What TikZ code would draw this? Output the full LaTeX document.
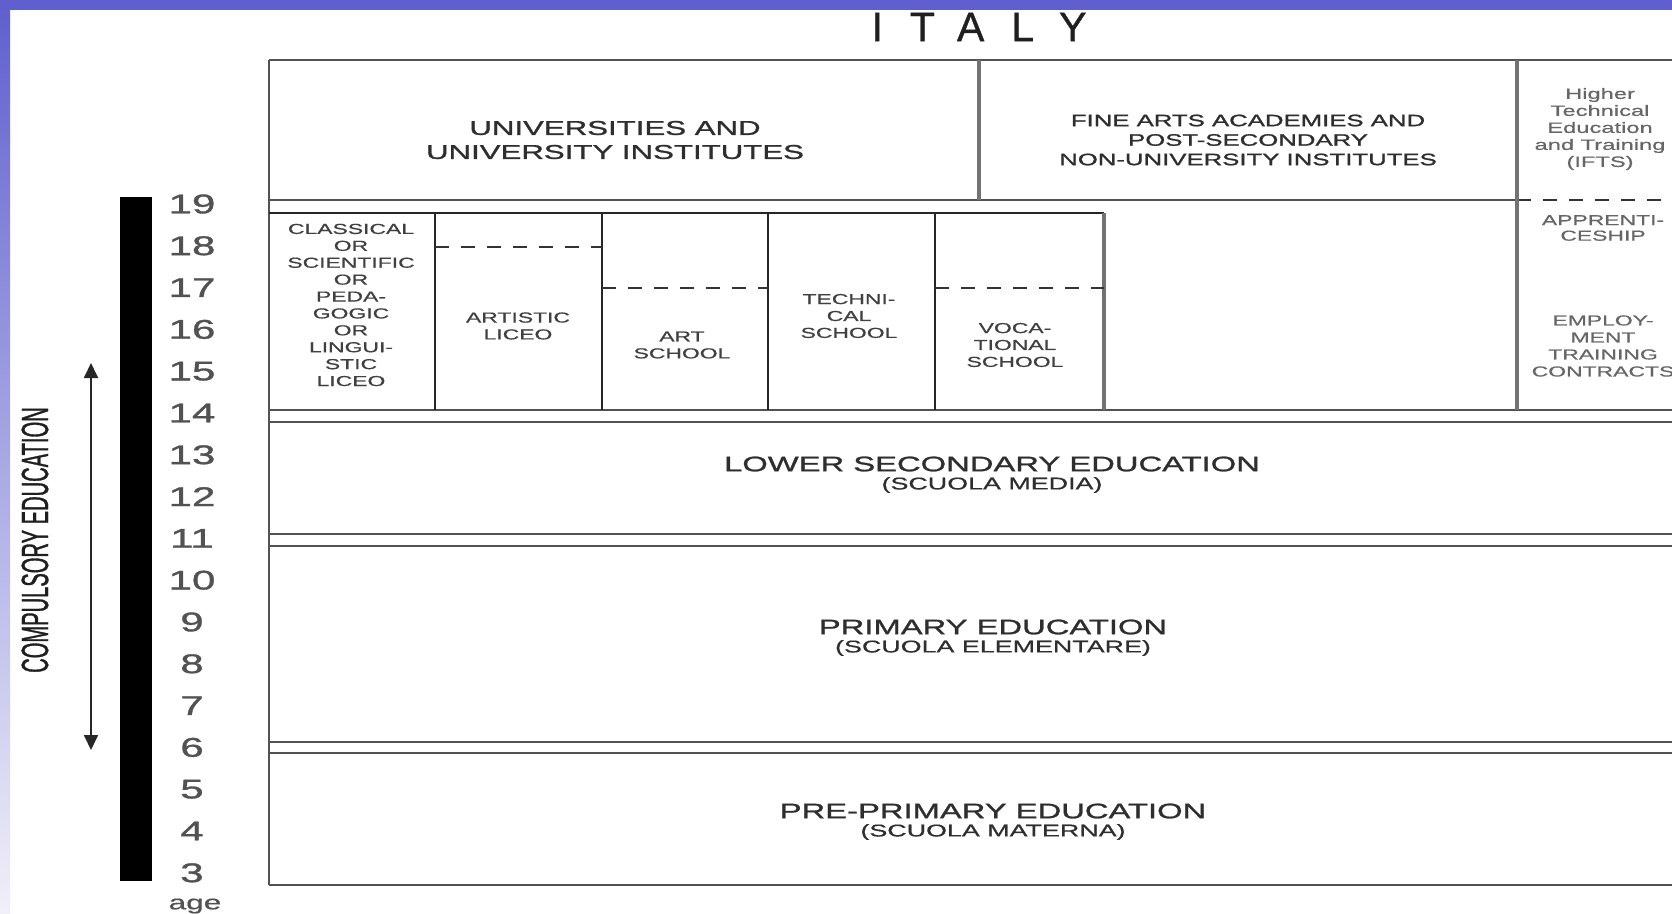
\documentclass[tikz,border=0pt]{standalone}
\usepackage{fontspec}
\setmainfont{Liberation Sans}
\newfontfamily\widef[FakeStretch=1.58,FakeBold=0.6]{Liberation Sans}
\newfontfamily\widebf[FakeStretch=1.56,FakeBold=1.2]{Liberation Sans}
\newfontfamily\narrowf[FakeStretch=0.53,FakeBold=0.8]{Liberation Sans}
\newfontfamily\titlef[FakeBold=0.8]{Liberation Sans}
\usetikzlibrary{arrows.meta}
\definecolor{frameblue}{HTML}{5F5FCE}
\definecolor{fadeblue}{HTML}{F0F0F9}
\definecolor{txt}{HTML}{2E2E2E}
\begin{document}
\begin{tikzpicture}[x=1pt,y=-1pt,
  frameline/.style={line width=2.8pt, draw=black!68},
  thickdiv/.style={line width=4.5pt, draw=black!55},
  thindiv/.style={line width=2.2pt, draw=black!85},
  dashline/.style={line width=1.8pt, draw=black!80, dash pattern=on 14pt off 12pt},
  unilbl/.style={text=txt, align=center, inner sep=0pt, font=\widebf\fontsize{20}{24}\selectfont},
  finelbl/.style={text=txt, align=center, inner sep=0pt, font=\widebf\fontsize{16.5}{19.5}\selectfont},
  seclbl/.style={text=black!75, align=center, inner sep=0pt, font=\widef\fontsize{14.5}{16.9}\selectfont},
  rightlbl/.style={text=black!60, align=center, inner sep=0pt, font=\widef\fontsize{14.5}{17}\selectfont},
  bigcap/.style={text=txt, inner sep=0pt, font=\widebf\fontsize{21}{24}\selectfont},
  subcap/.style={text=txt, inner sep=0pt, font=\widef\fontsize{17}{20}\selectfont},
  num/.style={text=black!68, inner sep=0pt, font=\widebf\fontsize{27}{30}\selectfont}
]
\clip (0,0) rectangle (1672,913);
\fill[white] (0,0) rectangle (1672,913);
\shade[top color=frameblue, bottom color=fadeblue] (0,0) rectangle (10,913);
\fill[frameblue] (0,0) rectangle (1672,10);

% title
\node[font=\titlef\fontsize{41}{44}\selectfont, text=black!88, inner sep=0pt] (title) at (979,27)
  {I\hspace{27pt}T\hspace{22pt}A\hspace{27pt}L\hspace{25pt}Y};

% compulsory education
\node[rotate=90, font=\narrowf\fontsize{38}{40}\selectfont, text=black!88, inner sep=0pt] (comp) at (35,540) {COMPULSORY EDUCATION};
\coordinate (ctop) at (91,363);
\coordinate (cbot) at (91,750);
\draw[line width=1.8pt, black!85, {Triangle[width=14pt,length=15pt]}-{Triangle[width=14pt,length=15pt]}] (ctop) -- (cbot);

% age bar
\fill[black] (120,197) rectangle (152,881);
\foreach \a in {3,...,19} {
  \node[num] (age\a) at (192,{204+(19-\a)*41.8}) {\a};
}
\node[num, font=\widef\fontsize{20}{22}\selectfont] (agelbl) at (195,906) {age};

% frame lines
\draw[frameline] (269,60) -- (1672,60);
\draw[frameline] (269,60) -- (269,885);
\draw[frameline] (269,200) -- (1517,200);
\draw[dashline] (1517,200) -- (1672,200);
\draw[thindiv] (269,213) -- (1104,213);
\foreach \yy in {410,422,534,546,742,753,885} {
  \draw[frameline] (269,\yy) -- (1672,\yy);
}
\draw[thickdiv] (979,60) -- (979,200);
\draw[thickdiv] (1517,60) -- (1517,410);
\draw[thickdiv] (1104,213) -- (1104,410);
\foreach \xx in {435,602,768,935} {
  \draw[thindiv] (\xx,213) -- (\xx,410);
}
\draw[dashline] (435,247) -- (602,247);
\draw[dashline] (602,288) -- (768,288);
\draw[dashline] (935,288) -- (1104,288);

% labels
\node[unilbl] (uni) at (615,140) {UNIVERSITIES AND\\UNIVERSITY INSTITUTES};
\node[finelbl] (fine) at (1248,140) {FINE ARTS ACADEMIES AND\\POST-SECONDARY\\NON-UNIVERSITY INSTITUTES};
\node[rightlbl, font=\widef\fontsize{15}{17}\selectfont] (ifts) at (1600,129) {Higher\\Technical\\Education\\and Training\\(IFTS)};
\node[rightlbl, font=\widef\fontsize{14.5}{15.5}\selectfont] (appr) at (1603,228) {APPRENTI-\\CESHIP};
\node[rightlbl] (empl) at (1603,346) {EMPLOY-\\MENT\\TRAINING\\CONTRACTS};

\node[seclbl] (clas) at (351,305) {CLASSICAL\\OR\\SCIENTIFIC\\OR\\PEDA-\\GOGIC\\OR\\LINGUI-\\STIC\\LICEO};
\node[seclbl] (arti) at (518,326) {ARTISTIC\\LICEO};
\node[seclbl] (arts) at (682,345) {ART\\SCHOOL};
\node[seclbl] (tech) at (849,316) {TECHNI-\\CAL\\SCHOOL};
\node[seclbl] (voca) at (1015,345) {VOCA-\\TIONAL\\SCHOOL};

\node[bigcap] (lower) at (992,464) {LOWER SECONDARY EDUCATION};
\node[subcap] (lowersub) at (992,485) {(SCUOLA MEDIA)};
\node[bigcap] (prim) at (993,627) {PRIMARY EDUCATION};
\node[subcap] (primsub) at (993,648) {(SCUOLA ELEMENTARE)};
\node[bigcap] (pre) at (993,811) {PRE-PRIMARY EDUCATION};
\node[subcap] (presub) at (993,832) {(SCUOLA MATERNA)};
\end{tikzpicture}
\end{document}
